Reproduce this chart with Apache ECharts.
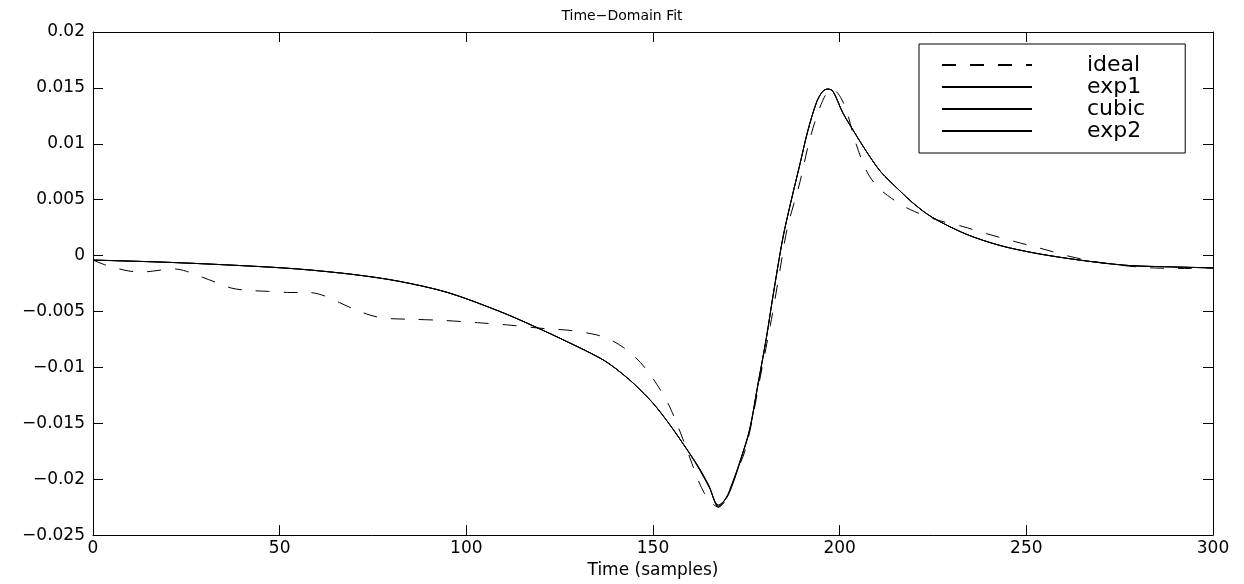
<!DOCTYPE html>
<html>
<head>
<meta charset="utf-8">
<script src="https://cdn.jsdelivr.net/npm/echarts@6/dist/echarts.min.js"></script>
<style>
html,body{margin:0;padding:0;background:#fff;}
#chart{width:1244px;height:584px;}
</style>
</head>
<body>
<div id="chart"></div>
<script>
var titleText = 'Time\u2212Domain Fit';
var xAxisName = 'Time (samples)';
var seriesNames = ['ideal', 'exp1', 'cubic', 'exp2'];

var idealX = [0, 3, 6, 10, 14, 18, 22, 25, 29, 33, 37, 41, 47, 53, 58, 62, 66, 70, 74, 78, 86, 94, 103, 111, 120, 128, 135, 139, 142, 145, 148, 151, 154, 156, 158, 160, 162, 164, 166, 167.5, 169, 170.5, 172.5, 174.8, 176.8, 178.6, 180.3, 182, 184, 186, 189.3, 192, 195, 197.5, 199, 200.5, 202, 204, 207, 210, 214, 219, 226, 233, 240, 247, 255, 262, 270, 278, 286, 294, 300];
var idealY = [-0.0004, -0.0008, -0.0011, -0.0014, -0.00145, -0.0013, -0.0012, -0.0014, -0.0019, -0.0024, -0.0029, -0.0031, -0.0032, -0.0033, -0.0033, -0.0036, -0.0042, -0.0048, -0.0053, -0.0056, -0.0057, -0.0058, -0.0060, -0.0062, -0.0065, -0.0067, -0.0071, -0.0076, -0.0082, -0.0090, -0.0101, -0.0115, -0.0132, -0.0147, -0.0164, -0.0182, -0.0200, -0.0214, -0.0222, -0.0225, -0.0221, -0.0210, -0.0193, -0.0173, -0.0143, -0.0111, -0.0082, -0.0052, -0.0013, 0.0025, 0.0065, 0.0104, 0.0135, 0.0148, 0.0147, 0.0140, 0.0128, 0.0104, 0.0077, 0.0062, 0.0051, 0.0041, 0.0032, 0.0026, 0.0019, 0.00125, 0.00054, -0.0001, -0.00063, -0.00096, -0.00113, -0.00115, -0.0011];

var fitX = [0, 20, 40, 55, 70, 82, 95, 109, 118, 127, 136, 140, 145, 150, 154, 158, 162, 165, 167.5, 169.7, 171.4, 173.5, 175.9, 178, 180.4, 182.1, 184.8, 187, 189.3, 191.5, 193.9, 195.5, 196.8, 198.2, 200.8, 204, 207.2, 211, 216.1, 220, 224.9, 234, 243, 251.7, 260, 269.7, 278, 287.6, 300];
var exp1Y = [-0.0004, -0.0006, -0.0009, -0.0012, -0.0017, -0.0023, -0.0033, -0.0050, -0.0063, -0.0077, -0.0092, -0.0101, -0.0115, -0.0132, -0.0149, -0.0168, -0.0188, -0.0206, -0.0224, -0.0216, -0.0203, -0.0182, -0.0156, -0.0117, -0.0073, -0.0037, 0.0016, 0.0049, 0.0081, 0.0112, 0.0138, 0.0147, 0.0149, 0.0147, 0.0128, 0.0110, 0.0093, 0.0075, 0.0058, 0.0046, 0.0034, 0.0019, 0.0009, 0.00026, -0.0002, -0.00063, -0.0009, -0.0010, -0.0011];
var cubicY = [-0.0004, -0.0006, -0.0009, -0.0012, -0.0017, -0.0023, -0.0033, -0.0050, -0.0063, -0.0077, -0.0092, -0.0101, -0.0115, -0.0132, -0.0149, -0.0168, -0.0189, -0.0207, -0.0223, -0.0217, -0.0204, -0.0183, -0.0156, -0.0118, -0.0073, -0.0037, 0.0016, 0.0049, 0.0081, 0.0112, 0.0138, 0.0147, 0.0149, 0.0147, 0.0128, 0.0110, 0.0093, 0.0075, 0.0058, 0.0046, 0.0034, 0.0019, 0.0009, 0.00026, -0.0002, -0.00063, -0.0009, -0.0010, -0.0011];
var exp2Y = [-0.0004, -0.0006, -0.0009, -0.0012, -0.0017, -0.0023, -0.0033, -0.0050, -0.0063, -0.0077, -0.0092, -0.0101, -0.0115, -0.0132, -0.0149, -0.0168, -0.0188, -0.0206, -0.0225, -0.0216, -0.0202, -0.0182, -0.0155, -0.0117, -0.0073, -0.0037, 0.0016, 0.0049, 0.0081, 0.0112, 0.0138, 0.0147, 0.0149, 0.0147, 0.0128, 0.0110, 0.0093, 0.0075, 0.0058, 0.0046, 0.0034, 0.0019, 0.0009, 0.00026, -0.0002, -0.00063, -0.0009, -0.0010, -0.0011];

function pairs(xs, ys) { return xs.map(function (x, i) { return [x, ys[i]]; }); }
function fmt(v) { var s = String(+v.toFixed(4)); return s.replace('-', '\u2212'); }

var FONT = 'DejaVu Sans';
var chart = echarts.init(document.getElementById('chart'), null, { renderer: 'canvas' });

var axisCommon = {
  axisLine: { show: true, onZero: false, lineStyle: { color: '#000', width: 1 } },
  axisTick: { show: true, inside: true, length: 10, lineStyle: { color: '#000', width: 1 } },
  splitLine: { show: false }
};

function lineSeries(name, data, dashed) {
  return {
    name: name, type: 'line', data: data, symbol: 'none', smooth: 0.3,
    lineStyle: { color: '#000', width: 1, type: dashed ? [14, 14] : 'solid' },
    itemStyle: { color: '#000' },
    animation: false, z: dashed ? 2 : 3
  };
}

chart.setOption({
  animation: false,
  backgroundColor: '#fff',
  title: {
    text: titleText, left: 'center', top: 4,
    textStyle: { fontFamily: FONT, fontSize: 14, fontWeight: 'normal', color: '#000' }
  },
  grid: { left: 93, right: 31, top: 32, bottom: 44, containLabel: false },
  legend: {
    orient: 'vertical', left: 919, top: 44,
    data: seriesNames,
    borderColor: '#000', borderWidth: 1, backgroundColor: '#fff',
    padding: [10, 40, 11, 22],
    itemWidth: 90, itemHeight: 14, itemGap: 0,
    itemStyle: { opacity: 0 },
    textStyle: { fontFamily: FONT, fontSize: 22, lineHeight: 21, color: '#000', padding: [0, 0, 0, 50] }
  },
  xAxis: [
    Object.assign({}, axisCommon, {
      type: 'value', min: 0, max: 300, interval: 50, position: 'bottom',
      name: xAxisName, nameLocation: 'middle', nameGap: 23,
      nameTextStyle: { fontFamily: FONT, fontSize: 17, color: '#000' },
      axisLabel: { fontFamily: FONT, fontSize: 17, color: '#000', margin: 5 }
    }),
    Object.assign({}, axisCommon, {
      type: 'value', min: 0, max: 300, interval: 50, position: 'top',
      axisLabel: { show: false }
    })
  ],
  yAxis: [
    Object.assign({}, axisCommon, {
      type: 'value', min: -0.025, max: 0.02, interval: 0.005, position: 'left',
      axisLabel: { fontFamily: FONT, fontSize: 17, color: '#000', margin: 8, formatter: fmt }
    }),
    Object.assign({}, axisCommon, {
      type: 'value', min: -0.025, max: 0.02, interval: 0.005, position: 'right',
      axisLabel: { show: false }
    })
  ],
  series: [
    lineSeries(seriesNames[0], pairs(idealX, idealY), true),
    lineSeries(seriesNames[1], pairs(fitX, exp1Y), false),
    lineSeries(seriesNames[2], pairs(fitX, cubicY), false),
    lineSeries(seriesNames[3], pairs(fitX, exp2Y), false)
  ]
});
</script>
</body>
</html>
